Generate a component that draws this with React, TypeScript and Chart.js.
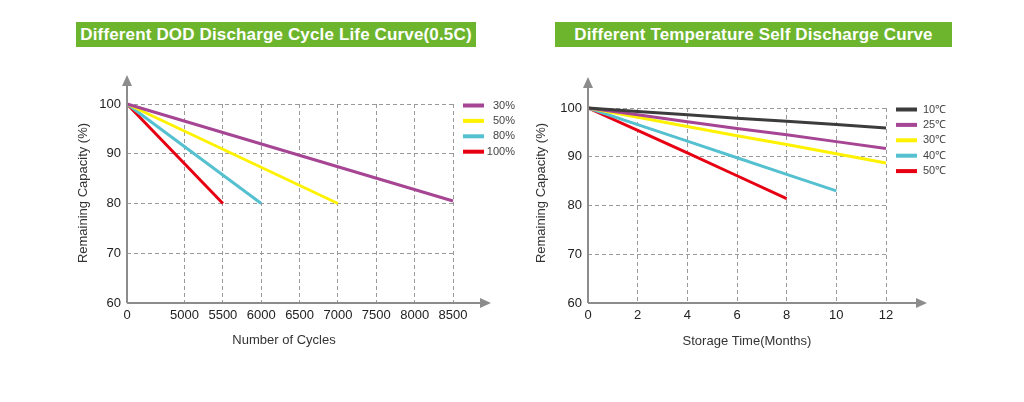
import React, { useEffect, useRef } from 'react';
import { Chart, ChartConfiguration, Plugin, registerables } from 'chart.js';

Chart.register(...registerables);

const FONT = '"Liberation Sans", Arial, sans-serif';

// left chart: cycle life by depth of discharge
const cycleTicks = [0, 5000, 5500, 6000, 6500, 7000, 7500, 8000, 8500];
const dodLabels = ['30%', '50%', '80%', '100%'];
const dodColors = ['#a54593', '#fff200', '#55c0cf', '#e60012'];
const dodEndCycles = [8500, 7000, 6000, 5500];
const dodEndCapacity = [80.5, 80, 80, 80];
const startCapacity = 100;

// right chart: self discharge by temperature
const months = [0, 2, 4, 6, 8, 10, 12];
const tempLabels = ['10℃', '25℃', '30℃', '40℃', '50℃'];
const tempColors = ['#3c3c3c', '#a54593', '#fff200', '#55c0cf', '#e60012'];
const temp10 = [100, 99.3, 98.6, 97.9, 97.3, 96.6, 95.9];
const temp25 = [100, 98.6, 97.2, 95.8, 94.5, 93.1, 91.7];
const temp30 = [100, 98.1, 96.2, 94.3, 92.5, 90.6, 88.7];
const temp40 = [100, 96.6, 93.2, 89.8, 86.4, 83.0];
const temp50 = [100, 95.4, 90.8, 86.1, 81.4];

// the cycle axis is not linear: 0 -> 5000 takes 1.5 steps, then 500 per step
const cyclePos = (c: number) => (c <= 5000 ? (c / 5000) * 1.5 : 1.5 + (c - 5000) / 500);

interface DecorOptions {
  xTitle: string;
  yTitle: string;
  xTitleX: number;
  xTitleY: number;
  yTitleX: number;
  yTitleY: number;
  arrowX: number;
  arrowY: number;
  legendAlign: 'left' | 'right';
}

// axes with arrow heads, axis titles and the small legend on the right
const decorPlugin: Plugin = {
  id: 'decor',
  afterDraw(chart, _args, opts: any) {
    const o = opts as DecorOptions;
    const { ctx, chartArea: a } = chart;
    const top = a.top - o.arrowY;
    const right = a.right + o.arrowX;

    ctx.save();
    ctx.strokeStyle = '#8c8c8c';
    ctx.fillStyle = '#8c8c8c';
    ctx.lineWidth = 2;
    ctx.beginPath();
    ctx.moveTo(a.left, a.bottom);
    ctx.lineTo(a.left, top + 8);
    ctx.moveTo(a.left, a.bottom);
    ctx.lineTo(right - 8, a.bottom);
    ctx.stroke();

    ctx.beginPath();
    ctx.moveTo(a.left, top);
    ctx.lineTo(a.left - 5, top + 11);
    ctx.lineTo(a.left + 5, top + 11);
    ctx.closePath();
    ctx.fill();
    ctx.beginPath();
    ctx.moveTo(right, a.bottom);
    ctx.lineTo(right - 11, a.bottom - 5);
    ctx.lineTo(right - 11, a.bottom + 5);
    ctx.closePath();
    ctx.fill();

    ctx.fillStyle = '#333';
    ctx.font = `13px ${FONT}`;
    ctx.textAlign = 'center';
    ctx.textBaseline = 'middle';
    ctx.fillText(o.xTitle, o.xTitleX, o.xTitleY);
    ctx.save();
    ctx.translate(o.yTitleX, o.yTitleY);
    ctx.rotate(-Math.PI / 2);
    ctx.fillText(o.yTitle, 0, 0);
    ctx.restore();

    ctx.font = `11px ${FONT}`;
    chart.data.datasets.forEach((ds, i) => {
      const y = a.top + 1.5 + i * 15.4;
      const x = a.right + 10;
      ctx.fillStyle = ds.borderColor as string;
      ctx.fillRect(x, y - 2, 21, 4);
      ctx.fillStyle = '#444';
      if (o.legendAlign === 'right') {
        ctx.textAlign = 'right';
        ctx.fillText(ds.label || '', x + 52, y);
      } else {
        ctx.textAlign = 'left';
        ctx.fillText(ds.label || '', x + 27, y);
      }
    });
    ctx.restore();
  }
};

const tickFont = { family: FONT, size: 13 };

function yScale(width: number) {
  return {
    type: 'linear' as const,
    min: 60,
    max: 100,
    ticks: { stepSize: 10, color: '#222', font: tickFont, padding: 6 },
    grid: { color: '#9a9a9a', drawTicks: false },
    border: { display: false, dash: [4, 3] },
    afterFit: (scale: any) => {
      scale.width = width;
    }
  };
}

function buildDodConfig(): ChartConfiguration {
  const datasets = dodLabels.map((label, i) => ({
    label,
    data: [
      { x: cyclePos(0), y: startCapacity },
      { x: cyclePos(dodEndCycles[i]), y: dodEndCapacity[i] }
    ],
    borderColor: dodColors[i],
    backgroundColor: dodColors[i],
    borderWidth: 3,
    pointRadius: 0,
    tension: 0,
    clip: false as const
  }));

  return {
    type: 'line',
    data: { datasets },
    plugins: [decorPlugin],
    options: {
      animation: false,
      responsive: true,
      maintainAspectRatio: false,
      layout: { padding: { top: 44, right: 77, left: 0, bottom: 0 } },
      scales: {
        x: {
          type: 'linear',
          min: 0,
          max: cyclePos(8500),
          afterBuildTicks: (scale: any) => {
            scale.ticks = cycleTicks.map(c => ({ value: cyclePos(c) }));
          },
          ticks: {
            autoSkip: false,
            maxRotation: 0,
            color: '#222',
            font: tickFont,
            padding: 5,
            callback: (_v: any, i: number) => String(cycleTicks[i])
          },
          grid: { color: '#9a9a9a', drawTicks: false },
          border: { display: false, dash: [4, 3] },
          afterFit: (scale: any) => {
            scale.height = 57;
          }
        },
        y: yScale(67)
      },
      plugins: {
        legend: { display: false },
        tooltip: { enabled: false },
        decor: {
          xTitle: 'Number of Cycles',
          yTitle: 'Remaining Capacity (%)',
          xTitleX: 224,
          xTitleY: 280,
          yTitleX: 23,
          yTitleY: 133,
          arrowX: 38,
          arrowY: 29,
          legendAlign: 'right'
        }
      } as any
    }
  };
}

function buildTempConfig(): ChartConfiguration {
  const series = [temp10, temp25, temp30, temp40, temp50];
  const datasets = tempLabels.map((label, i) => ({
    label,
    data: series[i].map((v, j) => ({ x: months[j], y: v })),
    borderColor: tempColors[i],
    backgroundColor: tempColors[i],
    borderWidth: 3,
    pointRadius: 0,
    tension: 0,
    clip: false as const
  }));

  return {
    type: 'line',
    data: { datasets },
    plugins: [decorPlugin],
    options: {
      animation: false,
      responsive: true,
      maintainAspectRatio: false,
      layout: { padding: { top: 48, right: 74, left: 0, bottom: 0 } },
      scales: {
        x: {
          type: 'linear',
          min: 0,
          max: 12,
          ticks: { stepSize: 2, maxRotation: 0, color: '#222', font: tickFont, padding: 5 },
          grid: { color: '#9a9a9a', drawTicks: false },
          border: { display: false, dash: [4, 3] },
          afterFit: (scale: any) => {
            scale.height = 57;
          }
        },
        y: yScale(58)
      },
      plugins: {
        legend: { display: false },
        tooltip: { enabled: false },
        decor: {
          xTitle: 'Storage Time(Months)',
          yTitle: 'Remaining Capacity (%)',
          xTitleX: 217,
          xTitleY: 281,
          yTitleX: 11,
          yTitleY: 133,
          arrowX: 41,
          arrowY: 31,
          legendAlign: 'left'
        }
      } as any
    }
  };
}

const ChartCanvas: React.FC<{ build: () => ChartConfiguration; style: React.CSSProperties }> = ({ build, style }) => {
  const canvasRef = useRef<HTMLCanvasElement>(null);

  useEffect(() => {
    if (!canvasRef.current) return;
    const chart = new Chart(canvasRef.current, build());
    return () => {
      chart.destroy();
    };
  }, [build]);

  return (
    <div style={{ position: 'absolute', ...style }}>
      <canvas ref={canvasRef} />
    </div>
  );
};

const bannerStyle: React.CSSProperties = {
  position: 'absolute',
  top: 22,
  height: 25,
  lineHeight: '25px',
  background: '#6cb52d',
  color: '#fff',
  fontFamily: '"Liberation Sans Narrow", "Liberation Sans", Arial, sans-serif',
  fontWeight: 'bold',
  fontSize: 17,
  letterSpacing: 0.15,
  textAlign: 'center',
  whiteSpace: 'nowrap'
};

export default function App() {
  useEffect(() => {
    document.body.style.margin = '0';
  }, []);

  return (
    <div style={{ position: 'relative', width: 1024, height: 402, background: '#fff', overflow: 'hidden' }}>
      <div style={{ ...bannerStyle, left: 76, width: 400 }}>Different DOD Discharge Cycle Life Curve(0.5C)</div>
      <div style={{ ...bannerStyle, left: 555, width: 397 }}>Different Temperature Self Discharge Curve</div>
      <ChartCanvas build={buildDodConfig} style={{ left: 60, top: 60, width: 470, height: 300 }} />
      <ChartCanvas build={buildTempConfig} style={{ left: 530, top: 60, width: 430, height: 300 }} />
    </div>
  );
}
